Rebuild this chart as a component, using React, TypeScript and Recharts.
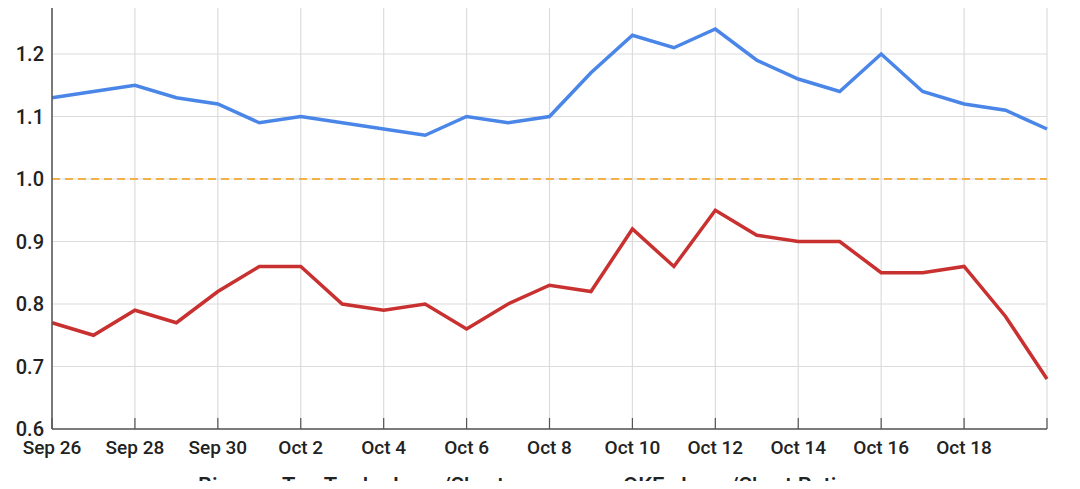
import React from "react";
import {
  LineChart,
  Line,
  XAxis,
  YAxis,
  CartesianGrid,
  ReferenceLine,
} from "recharts";

const dates = [
  "Sep 26", "Sep 27", "Sep 28", "Sep 29", "Sep 30", "Oct 1", "Oct 2", "Oct 3",
  "Oct 4", "Oct 5", "Oct 6", "Oct 7", "Oct 8", "Oct 9", "Oct 10", "Oct 11",
  "Oct 12", "Oct 13", "Oct 14", "Oct 15", "Oct 16", "Oct 17", "Oct 18", "Oct 19",
  "Oct 20",
];

const binance = [
  1.13, 1.14, 1.15, 1.13, 1.12, 1.09, 1.1, 1.09, 1.08, 1.07, 1.1, 1.09, 1.1,
  1.17, 1.23, 1.21, 1.24, 1.19, 1.16, 1.14, 1.2, 1.14, 1.12, 1.11, 1.08,
];

const okex = [
  0.77, 0.75, 0.79, 0.77, 0.82, 0.86, 0.86, 0.8, 0.79, 0.8, 0.76, 0.8, 0.83,
  0.82, 0.92, 0.86, 0.95, 0.91, 0.9, 0.9, 0.85, 0.85, 0.86, 0.78, 0.68,
];

const xTicks = [
  "Sep 26", "Sep 28", "Sep 30", "Oct 2", "Oct 4", "Oct 6", "Oct 8", "Oct 10",
  "Oct 12", "Oct 14", "Oct 16", "Oct 18", "Oct 20",
];
const hiddenXLabels = ["Oct 20"];

const yTicks = [0.6, 0.7, 0.8, 0.9, 1.0, 1.1, 1.2, 1.3];

const seriesNames = ["Binance Top Trader Long/Short", "OKEx Long/Short Ratio"];
const legendColors = ["#bfe2f4", "#f6b9b4"];

const data = dates.map((d, i) => ({ date: d, binance: binance[i], okex: okex[i] }));

const FONT = "Roboto, 'Noto Sans', sans-serif";

const XTick = (props: any) => {
  const { x, y, payload } = props;
  const show = !hiddenXLabels.includes(payload.value);
  return (
    <g>
      <line x1={x} x2={x} y1={y - 11} y2={y} stroke="#555" strokeWidth={1.2} />
      {show && (
        <text
          x={x}
          y={y + 25}
          textAnchor="middle"
          fill="#222"
          fontSize={19}
          fontWeight={500}
          fontFamily={FONT}
        >
          {payload.value}
        </text>
      )}
    </g>
  );
};

export default function App() {
  return (
    <div style={{ position: "relative", width: 1080, height: 489, overflow: "hidden", margin: -8, fontFamily: FONT }}>
      <div style={{ position: "absolute", left: 0, top: -30 }}>
        <LineChart
          width={1080}
          height={540}
          data={data}
          margin={{ top: 21.5, right: 33, left: 0, bottom: 51 }}
        >
          <CartesianGrid stroke="#dcdcdc" strokeWidth={1.2} />
          <XAxis
            dataKey="date"
            ticks={xTicks}
            interval={0}
            tickLine={false}
            tickSize={0}
            tickMargin={0}
            height={30}
            axisLine={{ stroke: "#555", strokeWidth: 1.5 }}
            tick={<XTick />}
          />
          <YAxis
            domain={[0.6, 1.3]}
            ticks={yTicks}
            type="number"
            width={52}
            tickLine={false}
            axisLine={{ stroke: "#555", strokeWidth: 1.5 }}
            tickFormatter={(v: number) => v.toFixed(1)}
            tick={{ fill: "#222", fontSize: 20, fontWeight: 500, fontFamily: FONT }}
          />
          <ReferenceLine y={1.0} stroke="#f0b04a" strokeWidth={2} strokeDasharray="8 5" />
          <Line
            type="linear"
            dataKey="binance"
            name={seriesNames[0]}
            stroke="#4a86e8"
            strokeWidth={3.5}
            dot={false}
            isAnimationActive={false}
          />
          <Line
            type="linear"
            dataKey="okex"
            name={seriesNames[1]}
            stroke="#c8312f"
            strokeWidth={3.5}
            dot={false}
            isAnimationActive={false}
          />
        </LineChart>
      </div>
      <div style={{ position: "absolute", top: 474, left: 165, display: "flex", alignItems: "center", fontSize: 22, fontWeight: 500, color: "#222", lineHeight: "24px" }}>
        <span style={{ display: "inline-block", width: 27, height: 4, background: legendColors[0], marginRight: 6, marginTop: 0 }} />
        <span>{seriesNames[0]}</span>
      </div>
      <div style={{ position: "absolute", top: 474, left: 587, display: "flex", alignItems: "center", fontSize: 22, fontWeight: 500, color: "#222", lineHeight: "24px" }}>
        <span style={{ display: "inline-block", width: 26, height: 4, background: legendColors[1], marginRight: 10, marginTop: 0 }} />
        <span>{seriesNames[1]}</span>
      </div>
    </div>
  );
}
